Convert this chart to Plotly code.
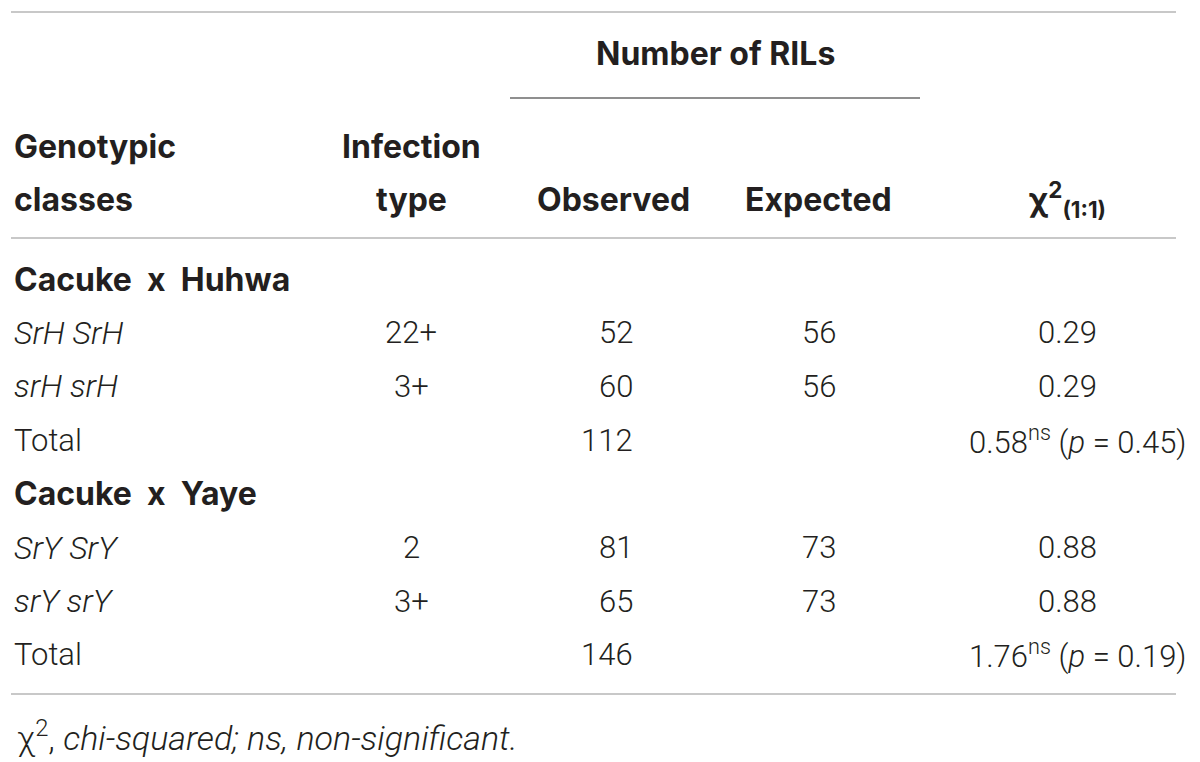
import plotly.graph_objects as go

# table content
groups = ["Cacuke x Huhwa", "Cacuke x Yaye"]
genotypes = [["SrH SrH", "srH srH"], ["SrY SrY", "srY srY"]]
infection = [["22+", "3+"], ["2", "3+"]]
observed = [[52, 60], [81, 65]]
expected = [[56, 56], [73, 73]]
chi2 = [["0.29", "0.29"], ["0.88", "0.88"]]
totals = [112, 146]
total_chi2 = ["0.58", "1.76"]
p_values = ["0.45", "0.19"]
footnote = "χ<sup>2</sup>, <i>chi-squared; ns, non-significant.</i>"

BOLD_FONT = "Inter"
BODY_FONT = "Roboto"
INK = "#231f20"
BODY = 31
HEAD = 32

# column anchors
x_geno = 12
x_inf = 411
x_obs = 635
x_exp = 819
x_chi = 1067
x_chi_r = 1188

fig = go.Figure()


def txt(x, y, s, anchor="center", bold=False, size=BODY):
    fig.add_annotation(
        x=x, y=y, text=s, showarrow=False, xanchor=anchor, yanchor="middle",
        font=dict(family=BOLD_FONT if bold else BODY_FONT, size=size, color=INK,
                  weight=700 if bold else 300),
    )


# header
txt(715, 53, "Number of RILs", bold=True, size=HEAD)
txt(x_geno, 146, "Genotypic", "left", True, HEAD)
txt(x_geno, 199, "classes", "left", True, HEAD)
txt(x_inf, 146, "Infection", bold=True, size=HEAD)
txt(x_inf, 199, "type", bold=True, size=HEAD)
txt(613, 199, "Observed", bold=True, size=HEAD)
txt(818, 199, "Expected", bold=True, size=HEAD)
txt(x_chi, 199, "χ<sup>2</sup><sub>(1:1)</sub>", bold=True, size=HEAD)

# body rows
y = 279
pitch = 53.7
for g in range(len(groups)):
    # the cross sign sits between wider gaps in the original
    txt(x_geno, y, groups[g].replace(" x ", "\u00a0 x\u00a0 "), "left", True, HEAD)
    y += pitch
    for r in range(2):
        txt(x_geno, y, "<i>" + genotypes[g][r] + "</i>", "left", size=BODY + 1)
        txt(x_inf, y, infection[g][r])
        txt(x_obs, y, str(observed[g][r]), "right")
        txt(x_exp, y, str(expected[g][r]))
        txt(x_chi, y, chi2[g][r])
        y += pitch
    txt(x_geno, y, "Total", "left")
    txt(x_obs, y, str(totals[g]), "right")
    txt(x_chi_r, y, total_chi2[g] + "<sup>ns</sup> (<i>p</i>\u00a0=\u00a0" + p_values[g] + ")", "right")
    y += pitch

txt(15, 736, footnote, "left", size=34)

# rules
rules = [(11, 1176, 12, "#c8c8c8"), (510, 920, 98, "#8f8f8f"),
         (11, 1176, 238, "#c8c8c8"), (11, 1176, 694, "#c8c8c8")]
for x0, x1, yy, c in rules:
    fig.add_shape(type="line", x0=x0, x1=x1, y0=yy, y1=yy, line=dict(color=c, width=2))

# page body has an 8px margin, so shift the ranges to line up with the window
fig.update_xaxes(range=[8, 1208], visible=False)
fig.update_yaxes(range=[770, 8], visible=False)
fig.update_layout(width=1200, height=762, margin=dict(l=0, r=0, t=0, b=0),
                  plot_bgcolor="white", paper_bgcolor="white", showlegend=False)
fig.write_html("out.html")
